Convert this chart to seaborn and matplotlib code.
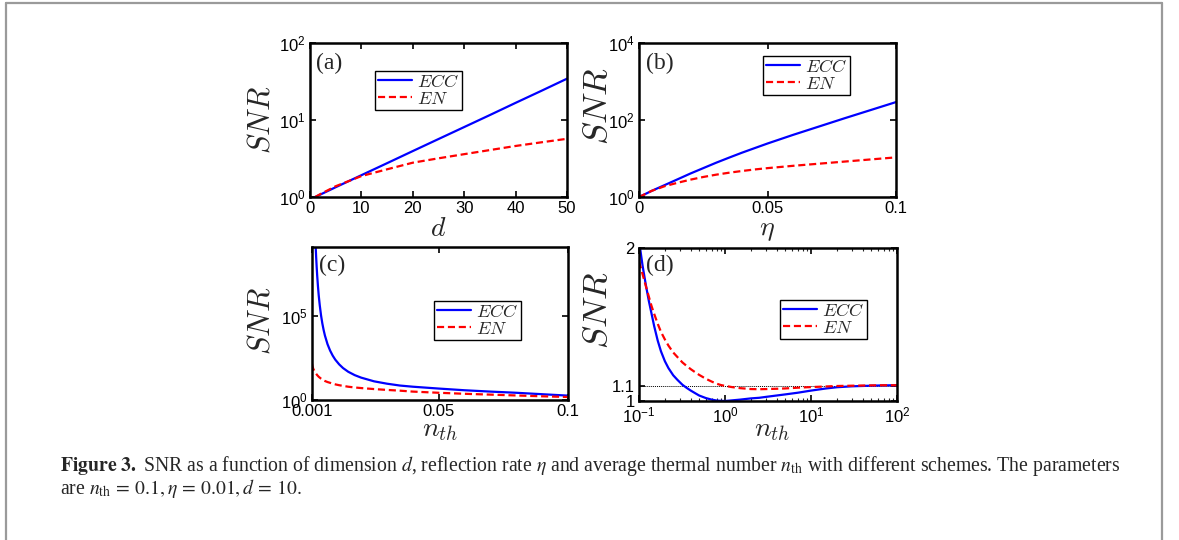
import matplotlib
matplotlib.use("Agg")
import math
import matplotlib.pyplot as plt
import matplotlib.ticker as mticker
from matplotlib.lines import Line2D
import seaborn as sns
import pandas as pd

# ---------------- data ----------------
d_vals = [1, 2, 5, 10, 15, 20, 25, 30, 35, 40, 45, 50]
a_ecc = [1.0, 1.075, 1.34, 1.92, 2.75, 3.95, 5.66, 8.1, 11.6, 16.7, 23.9, 34.4]
a_en = [1.0, 1.09, 1.38, 1.87, 2.29, 2.79, 3.18, 3.6, 4.07, 4.6, 5.13, 5.7]

eta_vals = [0, 0.0025, 0.005, 0.01, 0.015, 0.02, 0.025, 0.03, 0.035, 0.04,
            0.045, 0.05, 0.06, 0.07, 0.08, 0.09, 0.1]
b_ecc = [1.0, 1.2, 1.45, 2.04, 2.88, 4.07, 5.62, 7.76, 10.5, 14.1, 18.6,
         24.5, 41.2, 67.6, 111, 180, 292]
b_en = [1.0, 1.2, 1.45, 1.91, 2.34, 2.82, 3.31, 3.8, 4.27, 4.73, 5.19,
        5.62, 6.46, 7.33, 8.32, 9.44, 10.7]

nth_c = [0.001, 0.0012, 0.0015, 0.002, 0.0022, 0.0024, 0.0026, 0.0028, 0.003,
         0.0033, 0.0036, 0.004, 0.0045, 0.005, 0.0055, 0.006, 0.007, 0.008,
         0.009, 0.01, 0.0115, 0.013, 0.015, 0.0175, 0.02, 0.025, 0.03, 0.035,
         0.04, 0.05, 0.06, 0.07, 0.08, 0.09, 0.1]
c_ecc = [5.6e21, 1.5e18, 4.0e14, 1.0e11, 1.05e10, 1.62e9, 3.3e8, 8.5e7, 2.6e7,
         5.9e6, 1.66e6, 4.3e5, 1.07e5, 3.55e4, 1.45e4, 6.8e3, 2.09e3, 871,
         437, 251, 132, 79.4, 47.9, 30.2, 21.4, 12.9, 9.33, 7.24, 6.17, 4.79,
         3.8, 3.16, 2.69, 2.21, 1.82]
c_en = [141, 100, 70.8, 50.1, 44.7, 39.8, 36.3, 33.1, 30.2, 26.9, 24.0, 21.4,
        18.6, 16.6, 14.8, 13.5, 11.7, 10.5, 9.33, 8.51, 7.59, 6.92, 6.17,
        5.56, 5.13, 4.47, 3.98, 3.59, 3.16, 2.69, 2.34, 2.09, 1.86, 1.66, 1.51]

nth_d = [0.1, 0.11, 0.12, 0.13, 0.14, 0.15, 0.165, 0.18, 0.2, 0.22, 0.25,
         0.28, 0.32, 0.36, 0.4, 0.45, 0.5, 0.6, 0.7, 0.8, 0.9, 1.0, 1.2, 1.5,
         2, 2.5, 3, 4, 5, 7, 10, 15, 20, 30, 50, 70, 100]
d_ecc = [2.05, 1.885, 1.76, 1.655, 1.57, 1.49, 1.395, 1.325, 1.26, 1.215,
         1.168, 1.138, 1.106, 1.085, 1.068, 1.051, 1.036, 1.019, 1.009, 1.003,
         1.001, 1.0, 1.004, 1.009, 1.017, 1.021, 1.027, 1.036, 1.043, 1.054,
         1.068, 1.082, 1.09, 1.096, 1.1, 1.102, 1.103]
d_en = [1.912, 1.829, 1.752, 1.683, 1.62, 1.57, 1.505, 1.452, 1.402, 1.362,
        1.317, 1.287, 1.252, 1.228, 1.208, 1.188, 1.171, 1.145, 1.127, 1.113,
        1.104, 1.099, 1.091, 1.084, 1.078, 1.077, 1.078, 1.08, 1.082, 1.087,
        1.091, 1.095, 1.098, 1.1, 1.102, 1.103, 1.103]
ref_level = 1.1

series_names = ["ECC", "EN"]
panel_labels = ["(a)", "(b)", "(c)", "(d)"]
xlabels = [r"$d$", r"$\eta$", r"$n_{th}$", r"$n_{th}$"]
ylabel = r"$SNR$"
caption1 = (r"$\mathbf{Figure\ 3.}$ SNR as a function of dimension $d$, reflection rate "
            r"$\eta$ and average thermal number $n_{\rm th}$ with different schemes. The parameters")
caption2 = r"are $n_{\rm th}\,=\,0.1, \eta\,=\,0.01, d\,=\,10.$"

# ---------------- style ----------------
sns.set_style("ticks")
plt.rcParams["font.family"] = ["Liberation Sans", "DejaVu Sans"]
plt.rcParams["mathtext.fontset"] = "cm"

W, H = 1179, 540
fig = plt.figure(figsize=(W / 100, H / 100), dpi=100)
fig.patch.set_facecolor("white")
DASH = (0, (3.2, 1.7))


def px_axes(l, t, r, b):
    return fig.add_axes([l / W, 1 - b / H, (r - l) / W, (b - t) / H])


def sci_fmt(v, pos):
    if v <= 0:
        return ""
    e = int(round(math.log10(v)))
    return r"$\mathregular{10^{%d}}$" % e


def style_axes(ax):
    for s in ax.spines.values():
        s.set_linewidth(1.8)
        s.set_color("black")
        s.set_visible(True)
    ax.tick_params(direction="in", top=True, right=True, length=4, width=1.2,
                   labelsize=12, pad=3, colors="black")
    ax.tick_params(which="minor", direction="in", top=True, right=True,
                   length=2.5, width=0.8)
    ax.set_xlabel("")
    ax.set_ylabel("")
    ax.set_facecolor("white")


def draw(ax, x, y1, y2):
    df = pd.DataFrame({"x": x, "ECC": y1, "EN": y2})
    sns.lineplot(data=df, x="x", y="ECC", ax=ax, color="#0000ff",
                 linewidth=1.6, label=series_names[0], sort=True)
    sns.lineplot(data=df, x="x", y="EN", ax=ax, color="#ff0000",
                 linewidth=1.6, label=series_names[1], sort=True)
    ax.get_lines()[1].set_linestyle(DASH)


def legend(ax, l, t):
    leg = ax.legend(loc="upper left", bbox_to_anchor=(l / W, 1 - t / H),
                    bbox_transform=fig.transFigure, fontsize=13,
                    frameon=True, fancybox=False, edgecolor="black",
                    framealpha=1, borderpad=0.15, labelspacing=0.0,
                    handlelength=1.9, handletextpad=0.3, borderaxespad=0)
    leg.get_frame().set_linewidth(1.0)
    hs = leg.legend_handles if hasattr(leg, "legend_handles") else leg.legendHandles
    hs[1].set_linestyle(DASH)
    for t_ in leg.get_texts():
        t_.set_text(r"$%s$" % t_.get_text())


# (a)
axa = px_axes(310, 43, 567, 197)
draw(axa, d_vals, a_ecc, a_en)
axa.set_yscale("log")
axa.set_xlim(0, 50)
axa.set_ylim(1, 100)
axa.set_xticks([0, 10, 20, 30, 40, 50])
axa.yaxis.set_major_locator(mticker.FixedLocator([1, 10, 100]))
axa.yaxis.set_minor_locator(mticker.NullLocator())
axa.yaxis.set_major_formatter(mticker.FuncFormatter(sci_fmt))
style_axes(axa)
legend(axa, 375, 71)

# (b)
axb = px_axes(639, 43, 896, 197)
draw(axb, eta_vals, b_ecc, b_en)
axb.set_yscale("log")
axb.set_xlim(0, 0.1)
axb.set_ylim(1, 1e4)
axb.set_xticks([0, 0.05, 0.1])
axb.set_xticklabels(["0", "0.05", "0.1"])
axb.yaxis.set_major_locator(mticker.FixedLocator([1, 100, 1e4]))
axb.yaxis.set_minor_locator(mticker.NullLocator())
axb.yaxis.set_major_formatter(mticker.FuncFormatter(sci_fmt))
style_axes(axb)
legend(axb, 763, 56)

# (c)
axc = px_axes(312, 247, 568, 400)
draw(axc, nth_c, c_ecc, c_en)
axc.set_yscale("log")
axc.set_xlim(0.001, 0.1)
axc.set_ylim(1, 10 ** 9.1)
axc.set_xticks([0.001, 0.05, 0.1])
axc.set_xticklabels(["0.001", "0.05", "0.1"])
axc.yaxis.set_major_locator(mticker.FixedLocator([1, 1e5]))
axc.yaxis.set_minor_locator(mticker.NullLocator())
axc.yaxis.set_major_formatter(mticker.FuncFormatter(sci_fmt))
style_axes(axc)
legend(axc, 434, 301)

# (d)
axd = px_axes(639, 248, 897, 401)
draw(axd, nth_d, d_ecc, d_en)
axd.set_xscale("log")
axd.set_xlim(0.1, 100)
axd.set_ylim(1, 2)
axd.axhline(ref_level, color="black", linewidth=0.7, linestyle=(0, (1, 1)), zorder=1)
axd.xaxis.set_major_locator(mticker.FixedLocator([0.1, 1, 10, 100]))
axd.xaxis.set_major_formatter(mticker.FuncFormatter(sci_fmt))
axd.xaxis.set_minor_locator(mticker.LogLocator(base=10, subs=range(2, 10)))
axd.xaxis.set_minor_formatter(mticker.NullFormatter())
axd.set_yticks([1, 1.1, 2])
axd.set_yticklabels(["1", "1.1", "2"])
style_axes(axd)
legend(axd, 780, 300)

axes = [axa, axb, axc, axd]

# panel labels
for ax, lab, (px, py) in zip(axes, panel_labels,
                             [(316, 53), (646, 53), (319, 255), (646, 255)]):
    fig.text(px / W, 1 - py / H, lab, ha="left", va="top",
             fontsize=17, family=["Liberation Serif", "DejaVu Serif"])

# axis labels
for lab, (px, py) in zip(xlabels, [(438, 229), (767, 230), (440, 430), (772, 430)]):
    fig.text(px / W, 1 - py / H, lab, ha="center", va="center", fontsize=20)
for (px, py, fs) in [(262, 120, 22), (598, 106, 25), (262, 321, 22), (598, 310, 25)]:
    fig.text(px / W, 1 - py / H, ylabel, ha="center", va="center",
             fontsize=fs, rotation=90)

# caption
fig.text(60 / W, 1 - 466 / H, caption1, ha="left", va="center", fontsize=14.2,
         family=["Liberation Serif", "DejaVu Serif"], math_fontfamily="stix")
fig.text(60 / W, 1 - 489 / H, caption2, ha="left", va="center", fontsize=14.2,
         family=["Liberation Serif", "DejaVu Serif"], math_fontfamily="stix")

# outer frame
for (x0, y0, x1, y1) in [(6, 3, 1162, 3), (6, 3, 6, 545), (1162, 3, 1162, 545)]:
    fig.add_artist(Line2D([x0 / W, x1 / W], [1 - y0 / H, 1 - y1 / H],
                          transform=fig.transFigure, color="#9a9a9a",
                          linewidth=1.6))

fig.savefig("out.png", dpi=100, facecolor="white")
